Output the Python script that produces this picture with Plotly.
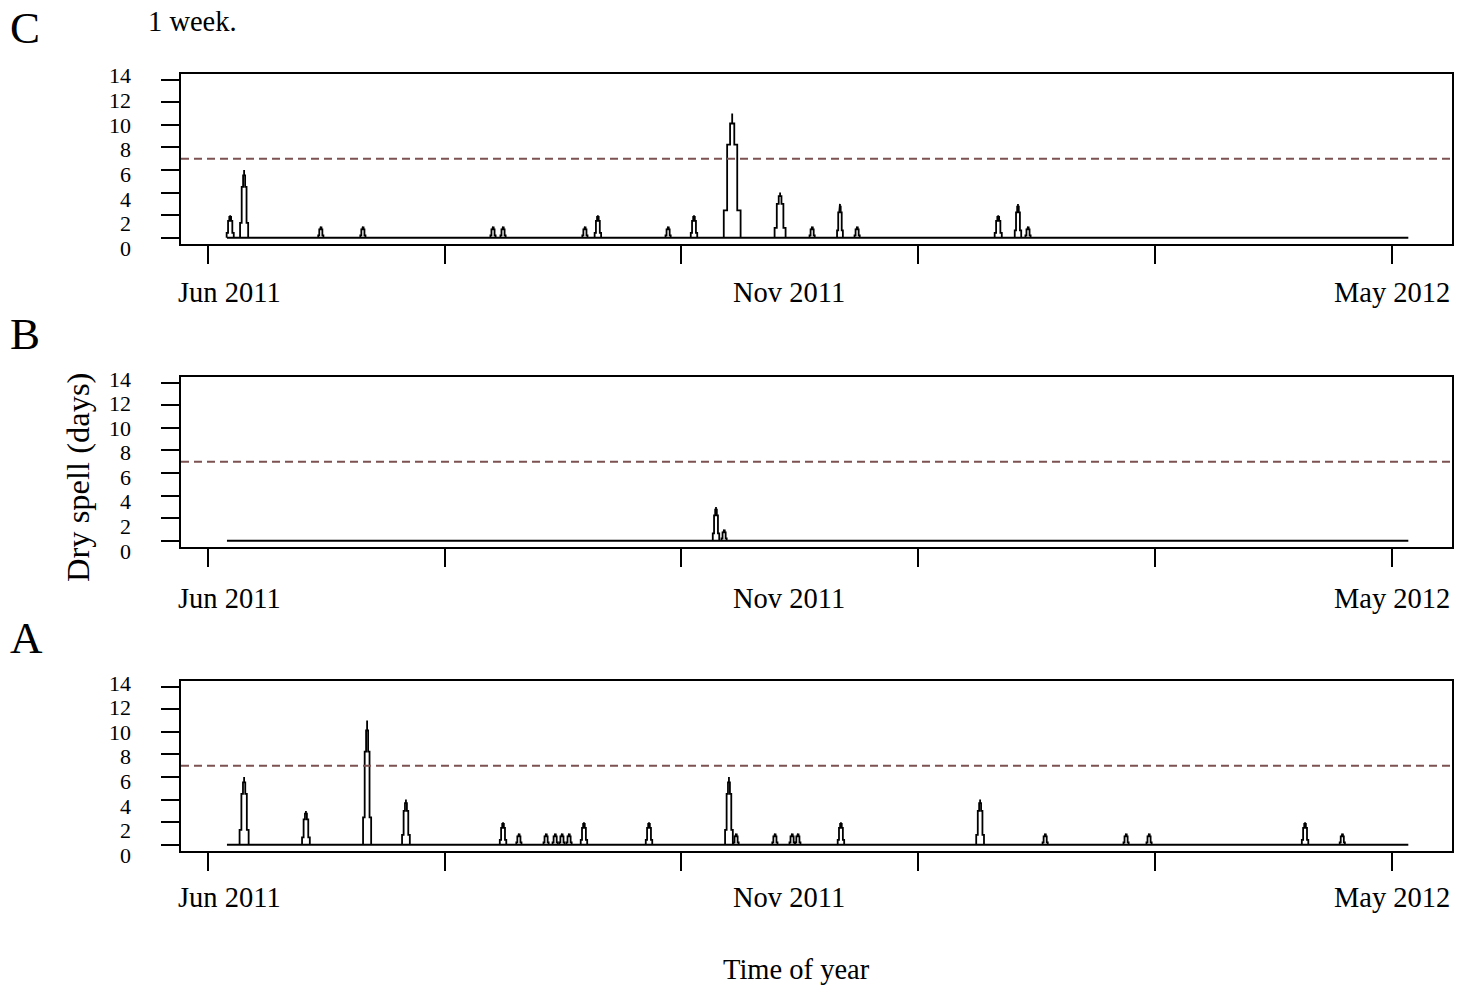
import plotly.graph_objects as go

# ---------------- data ----------------
N_DAYS = 365                      # daily series, 1 Jun 2011 .. 31 May 2012
THRESHOLD = 7                     # one week
Y_TICKS = [0, 2, 4, 6, 8, 10, 12, 14]
X_TICK_DAYS = [-5.9, 67.3, 140.4, 213.6, 286.8, 360.0]
X_LABELS = ["Jun 2011", "Nov 2011", "May 2012"]

# panel C
c_day = [1.0, 5.3, 29.0, 42.0, 82.2, 85.3, 110.6, 114.6, 136.3, 144.3, 156.1,
         170.9, 180.8, 189.4, 194.7, 238.3, 244.4, 247.5]
c_len = [2, 6, 1, 1, 1, 1, 1, 2, 1, 2, 11, 4, 1, 3, 1, 2, 3, 1]
c_span = [1.1, 1.25, 0.8, 0.8, 0.8, 0.8, 0.8, 1.0, 0.8, 1.0, 2.6, 1.7, 0.8, 0.9, 0.8, 1.1, 1.0, 0.8]

# panel B
b_day = [151.1, 153.6]
b_len = [3, 1]
b_span = [1.0, 0.8]

# panel A
a_day = [5.3, 24.4, 43.3, 55.3, 85.3, 90.2, 98.6, 101.4, 103.5, 105.7, 110.3,
         130.4, 155.1, 157.3, 169.3, 174.6, 176.4, 189.7, 232.7, 252.8, 277.8,
         284.9, 333.1, 344.6]
a_len = [6, 3, 11, 4, 2, 1, 1, 1, 1, 1, 2, 2, 6, 1, 1, 1, 1, 2, 4, 1, 1, 1, 2, 1]
a_span = [1.4, 1.2, 1.25, 1.2, 1.0, 0.8, 0.8, 0.8, 0.8, 0.8, 1.0, 1.0, 1.2, 0.8,
          0.8, 0.8, 0.8, 1.0, 1.2, 0.8, 0.8, 0.8, 1.0, 0.8]

# ---------------- layout helpers ----------------
W, H = 1469, 988
FONT = "Liberation Serif, Times New Roman, serif"


def px_x(p):
    return p / W


def px_y(p):
    return 1 - p / H


def spike_path(days, lens, spans):
    xs, ys = [], []
    for d, h, w in zip(days, lens, spans):
        l1, l2, l3 = 0.22 * h, 0.75 * h, 0.92 * h
        xs += [d - w, d - w, d - 0.6 * w, d - 0.6 * w, d - 0.25 * w, d - 0.25 * w, d, d, d,
               d + 0.25 * w, d + 0.25 * w, d + 0.6 * w, d + 0.6 * w, d + w, d + w, None]
        ys += [0, l1, l1, l2, l2, l3, l3, h, l3, l3, l2, l2, l1, l1, 0, None]
    return xs, ys


panels = [  # (letter, box top px, box bottom px, days, lens, spans, letter y px, xlabel y px)
    ("C", 74, 244, c_day, c_len, c_span, 28, 292),
    ("B", 377, 547, b_day, b_len, b_span, 334, 598),
    ("A", 681, 851, a_day, a_len, a_span, 638, 897),
]

X_RANGE = [-14.2, 378.5]
Y_RANGE = [-0.55, 14.5]

fig = go.Figure()
annotations = []
for i, (letter, top, bot, days, lens, spans, ly, xly) in enumerate(panels):
    ax = "" if i == 0 else str(i + 1)
    xa, ya = "x" + ax, "y" + ax
    # baseline
    fig.add_trace(go.Scatter(x=[0, N_DAYS], y=[0, 0], mode="lines",
                             line=dict(color="black", width=2),
                             xaxis=xa, yaxis=ya, showlegend=False, hoverinfo="skip"))
    sx, sy = spike_path(days, lens, spans)
    fig.add_trace(go.Scatter(x=sx, y=sy, mode="lines",
                             line=dict(color="black", width=1.8),
                             xaxis=xa, yaxis=ya, showlegend=False))
    # threshold
    fig.add_trace(go.Scatter(x=X_RANGE, y=[THRESHOLD, THRESHOLD], mode="lines",
                             line=dict(color="#7d5252", width=2, dash="8px,5px"),
                             xaxis=xa, yaxis=ya, showlegend=False, hoverinfo="skip"))
    dom_y = [px_y(bot), px_y(top)]
    fig.layout["xaxis" + ax] = dict(
        domain=[px_x(181), px_x(1452)], range=X_RANGE, anchor=ya,
        showline=True, mirror=True, linecolor="black", linewidth=2,
        ticks="outside", ticklen=18, tickwidth=2, tickcolor="black",
        tickvals=X_TICK_DAYS, showticklabels=False, showgrid=False, zeroline=False)
    fig.layout["yaxis" + ax] = dict(
        domain=dom_y, range=Y_RANGE, anchor=xa,
        showline=True, mirror=True, linecolor="black", linewidth=2,
        ticks="outside", ticklen=18, tickwidth=2, tickcolor="black",
        tickvals=Y_TICKS, showticklabels=False, showgrid=False, zeroline=False)
    # y tick labels
    for v in Y_TICKS:
        yp = top + 2 + (14 - v) * 12.3
        annotations.append(dict(text=str(v), x=px_x(133), y=px_y(yp), xref="paper", yref="paper",
                                xanchor="right", yanchor="middle", showarrow=False,
                                font=dict(family=FONT, size=22, color="black")))
    # x labels
    for lab, cx in zip(X_LABELS, [230, 789, 1392]):
        annotations.append(dict(text=lab, x=px_x(cx), y=px_y(xly), xref="paper", yref="paper",
                                xanchor="center", yanchor="middle", showarrow=False,
                                font=dict(family=FONT, size=28.5, color="black")))
    # panel letter
    annotations.append(dict(text=letter, x=px_x(8), y=px_y(ly), xref="paper", yref="paper",
                            xanchor="left", yanchor="middle", showarrow=False,
                            font=dict(family=FONT, size=45, color="black")))

annotations.append(dict(text="1 week.", x=px_x(146), y=px_y(21), xref="paper", yref="paper",
                        xanchor="left", yanchor="middle", showarrow=False,
                        font=dict(family=FONT, size=28.5, color="black")))
annotations.append(dict(text="Time of year", x=px_x(796), y=px_y(969), xref="paper", yref="paper",
                        xanchor="center", yanchor="middle", showarrow=False,
                        font=dict(family=FONT, size=28.5, color="black")))
annotations.append(dict(text="Dry spell (days)", x=px_x(78), y=px_y(478), xref="paper", yref="paper",
                        xanchor="center", yanchor="middle", showarrow=False, textangle=-90,
                        font=dict(family=FONT, size=32.5, color="black")))

fig.update_layout(width=W, height=H, margin=dict(l=0, r=0, t=0, b=0),
                  paper_bgcolor="white", plot_bgcolor="white",
                  annotations=annotations, showlegend=False)

fig.write_html("out.html")
